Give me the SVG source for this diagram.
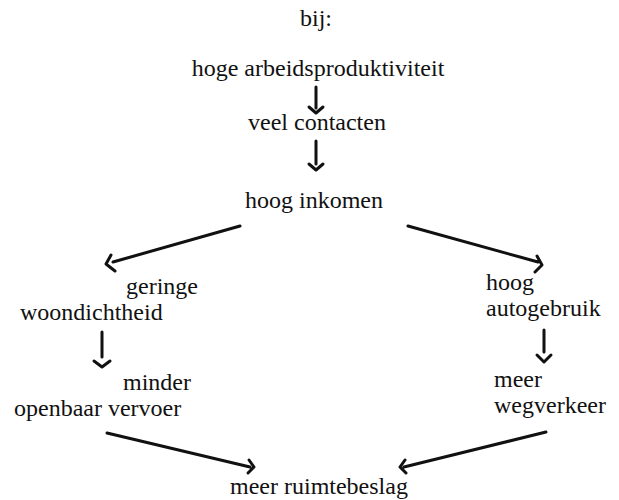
<svg xmlns="http://www.w3.org/2000/svg" width="619" height="500" viewBox="0 0 619 500">
<style>
text{font-family:"Liberation Serif","Times New Roman",serif;font-size:24px;fill:#111;}
.m{text-anchor:middle;}
.c{stroke:#111;stroke-width:3;fill:none;stroke-linecap:round;stroke-linejoin:round;}
</style>
<rect width="619" height="500" fill="#fff"/>
<g id="n0"><text class="m" x="316" y="26">bij:</text></g>
<g id="n1"><text class="m" x="318" y="76">hoge arbeidsproduktiviteit</text></g>
<g id="n2"><text x="248" y="130">veel contacten</text></g>
<g id="n3"><text x="245" y="208">hoog inkomen</text></g>
<g id="n4"><text x="126" y="294">geringe</text><text x="20" y="320">woondichtheid</text></g>
<g id="n5"><text x="486" y="290">hoog</text><text x="486" y="316">autogebruik</text></g>
<g id="n6"><text x="123" y="390">minder</text><text x="14" y="416">openbaar vervoer</text></g>
<g id="n7"><text x="494" y="387">meer</text><text x="494" y="413">wegverkeer</text></g>
<g id="n8"><text x="230" y="494">meer ruimtebeslag</text></g>
<g id="connectors">
<path class="c" d="M316 87V108M309 107L316 113L323 107"/>
<path class="c" d="M316 141V164M309 164L316 170L323 164"/>
<path class="c" d="M240 226L113 262M111 255L106 264L115 271"/>
<path class="c" d="M408 226L538 262M537 256L542 265L535 272"/>
<path class="c" d="M102 332V357M94 361L102 367L110 361"/>
<path class="c" d="M544 330V352M537 355L544 362L551 355"/>
<path class="c" d="M107 433L250 467M249 460L254 467L248 473"/>
<path class="c" d="M546 432L404 467M405 460L400 467L406 473"/>
</g>
</svg>
